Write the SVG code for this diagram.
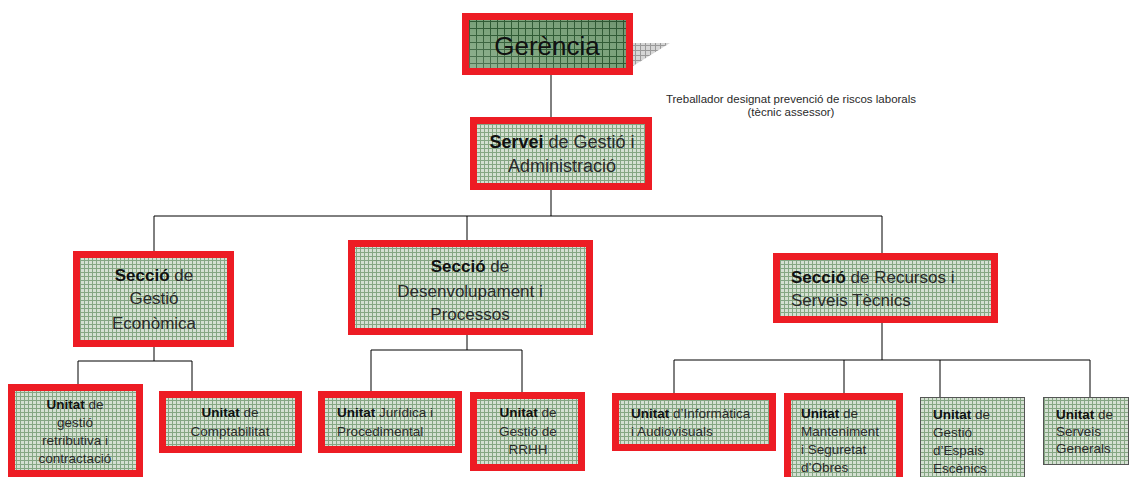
<svg xmlns="http://www.w3.org/2000/svg" width="1129" height="477" viewBox="0 0 1129 477">
<defs>
<pattern id="gridL" width="4" height="4" patternUnits="userSpaceOnUse">
<rect width="4" height="4" fill="#d4e0d2"/>
<path d="M0 0.5H4M0.5 0V4" stroke="#85a683" stroke-width="1"/>
</pattern>
<pattern id="gridD" width="7" height="7" patternUnits="userSpaceOnUse">
<rect width="7" height="7" fill="#7aa27a"/>
<path d="M0 0.5H7M0.5 0V7" stroke="#2e5a33" stroke-width="1"/>
</pattern>
<pattern id="gridS" width="5" height="5" patternUnits="userSpaceOnUse">
<rect width="5" height="5" fill="#d6d6d6"/>
<path d="M0 0.5H5M0.5 0V5" stroke="#9a9a9a" stroke-width="1"/>
</pattern>
<linearGradient id="shade" x1="0" y1="1" x2="1" y2="0">
<stop offset="0" stop-color="#ffffff" stop-opacity="0.18"/>
<stop offset="0.5" stop-color="#ffffff" stop-opacity="0"/>
<stop offset="1" stop-color="#000000" stop-opacity="0.1"/>
</linearGradient>
</defs>
<style>
.red{stroke:#ed1c24;stroke-width:7;fill:url(#gridL)}
.plain{stroke:#555;stroke-width:1;fill:url(#gridL)}
.t{font-family:"Liberation Sans",Arial,sans-serif;fill:#2a2a2a}
.c{text-anchor:middle}
.b{font-weight:bold;fill:#111}
.ln{stroke:#000;stroke-width:1;fill:none}
</style>
<rect width="1129" height="477" fill="#fff"/>

<g id="connectors">
<path class="ln" d="M551 75V117M551 190V216M154 216H882M154 216V251M467 216V240M882 216V253"/>
<path class="ln" d="M154 347V361M78 361H192M78 361V384M192 361V391"/>
<path class="ln" d="M467 335V350M371 350H522M371 350V391M522 350V392"/>
<path class="ln" d="M882 323V360M674 360H1090M674 360V393M844 360V393M940 360V397M1090 360V397"/>
</g>

<g id="gerencia">
<polygon points="633,43 670,43 633,66" fill="url(#gridS)"/>
<rect x="465.5" y="16.5" width="164" height="55" fill="url(#gridD)" stroke="#ed1c24" stroke-width="7"/>
<rect x="469" y="20" width="157" height="48" fill="url(#shade)"/>
<text class="t c" x="547" y="55" font-size="26" style="fill:#111">Gerència</text>
</g>

<g id="tecnic">
<text class="t c" x="791" y="103" font-size="11.5">Treballador designat prevenció de riscos laborals</text>
<text class="t c" x="791" y="115.5" font-size="11.5">(tècnic assessor)</text>
</g>

<g id="servei">
<rect class="red" x="473.5" y="120.5" width="175" height="66"/>
<text class="t c" x="562" y="148" font-size="18"><tspan class="b">Servei</tspan> de Gestió i</text>
<text class="t c" x="562" y="172" font-size="18">Administració</text>
</g>

<g id="seccio-ge">
<rect class="red" x="76.5" y="254.5" width="154" height="89"/>
<text class="t c" x="154" y="281" font-size="17"><tspan class="b">Secció</tspan> de</text>
<text class="t c" x="154" y="304" font-size="17">Gestió</text>
<text class="t c" x="154" y="329" font-size="17">Econòmica</text>
</g>

<g id="seccio-dp">
<rect class="red" x="351.5" y="243.5" width="238" height="88"/>
<text class="t c" x="470" y="272" font-size="17"><tspan class="b">Secció</tspan> de</text>
<text class="t c" x="470" y="297" font-size="17">Desenvolupament  i</text>
<text class="t c" x="470" y="320" font-size="17">Processos</text>
</g>

<g id="seccio-rst">
<rect class="red" x="776.5" y="256.5" width="218" height="63"/>
<text class="t" x="791" y="283" font-size="17"><tspan class="b">Secció</tspan> de Recursos i</text>
<text class="t" x="791" y="306" font-size="17">Serveis Tècnics</text>
</g>

<g id="unitat-retributiva">
<rect class="red" x="11.5" y="387.5" width="128" height="86"/>
<text class="t c" x="75" y="409" font-size="13.5"><tspan class="b">Unitat</tspan> de</text>
<text class="t c" x="75" y="427" font-size="13.5">gestió</text>
<text class="t c" x="75" y="445" font-size="13.5">retributiva i</text>
<text class="t c" x="75" y="463" font-size="13.5">contractació</text>
</g>

<g id="unitat-comptabilitat">
<rect class="red" x="162.5" y="394.5" width="136" height="55"/>
<text class="t c" x="230" y="417" font-size="13.5"><tspan class="b">Unitat</tspan> de</text>
<text class="t c" x="230" y="436" font-size="13.5">Comptabilitat</text>
</g>

<g id="unitat-juridica">
<rect class="red" x="321.5" y="394.5" width="137" height="55"/>
<text class="t" x="337" y="417" font-size="13.5"><tspan class="b">Unitat</tspan> Jurídica i</text>
<text class="t" x="337" y="436" font-size="13.5">Procedimental</text>
</g>

<g id="unitat-rrhh">
<rect class="red" x="473.5" y="395.5" width="108" height="72"/>
<text class="t c" x="528" y="417" font-size="13.5"><tspan class="b">Unitat</tspan> de</text>
<text class="t c" x="528" y="436" font-size="13.5">Gestió de</text>
<text class="t c" x="528" y="454" font-size="13.5">RRHH</text>
</g>

<g id="unitat-informatica">
<rect class="red" x="615.5" y="396.5" width="157" height="51"/>
<text class="t" x="631" y="418" font-size="13.5"><tspan class="b">Unitat</tspan> d’Informàtica</text>
<text class="t" x="631" y="436" font-size="13.5">i Audiovisuals</text>
</g>

<g id="unitat-manteniment">
<rect class="red" x="787.5" y="396.5" width="112" height="86"/>
<text class="t" x="801" y="418" font-size="13.5"><tspan class="b">Unitat</tspan> de</text>
<text class="t" x="801" y="436" font-size="13.5">Manteniment</text>
<text class="t" x="801" y="454" font-size="13.5">i Seguretat</text>
<text class="t" x="801" y="472" font-size="13.5">d’Obres</text>
</g>

<g id="unitat-espais">
<rect class="plain" x="920.5" y="397.5" width="104" height="85"/>
<text class="t" x="933" y="419" font-size="13.5"><tspan class="b">Unitat</tspan> de</text>
<text class="t" x="933" y="437" font-size="13.5">Gestió</text>
<text class="t" x="933" y="455" font-size="13.5">d’Espais</text>
<text class="t" x="933" y="473" font-size="13.5">Escènics</text>
</g>

<g id="unitat-serveis-generals">
<rect class="plain" x="1043.5" y="397.5" width="85" height="67"/>
<text class="t" x="1056" y="419" font-size="13.5"><tspan class="b">Unitat</tspan> de</text>
<text class="t" x="1056" y="436" font-size="13.5">Serveis</text>
<text class="t" x="1056" y="453" font-size="13.5">Generals</text>
</g>
</svg>
